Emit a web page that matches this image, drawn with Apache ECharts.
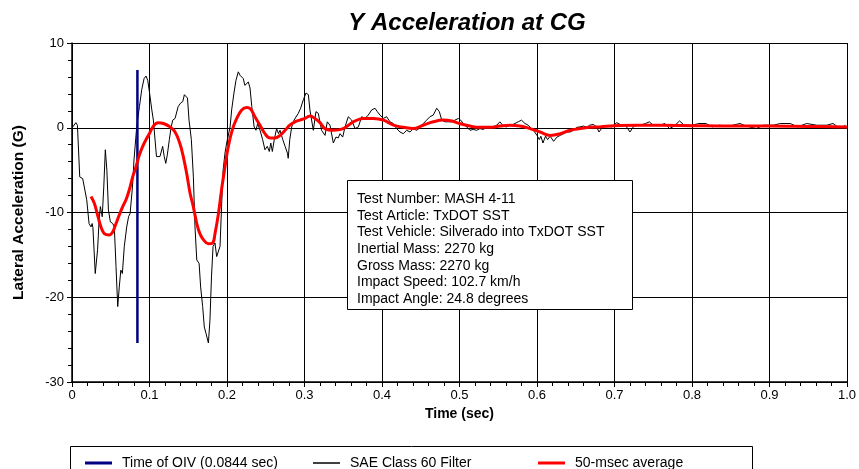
<!DOCTYPE html>
<html>
<head>
<meta charset="utf-8">
<script src="https://cdn.jsdelivr.net/npm/echarts@6/dist/echarts.min.js"></script>
<style>
  html, body { margin: 0; padding: 0; background: #fff; }
  #chart { width: 859px; height: 469px; }
</style>
</head>
<body>
<div id="chart"></div>
<script>
// SAE Class 60 filtered signal (time in s, accel in G)
var saeTime = [0.001,0.005,0.007,0.010,0.0138,0.016,0.019,0.022,0.0245,0.026,0.027,0.030,0.033,0.035,0.0366,0.039,0.041,0.043,0.045,0.047,0.0495,0.0525,0.0546,0.0568,0.059,0.061,0.063,0.065,0.0675,0.0706,0.073,0.075,0.078,0.080,0.0835,0.087,0.090,0.093,0.0955,0.0977,0.0998,0.103,0.105,0.107,0.109,0.1135,0.117,0.119,0.121,0.123,0.1256,0.128,0.130,0.133,0.137,0.140,0.143,0.145,0.147,0.149,0.151,0.154,0.1566,0.1587,0.161,0.164,0.166,0.1686,0.1707,0.173,0.176,0.178,0.180,0.182,0.1845,0.1867,0.189,0.191,0.193,0.195,0.1974,0.1996,0.202,0.204,0.206,0.209,0.2116,0.2146,0.2168,0.219,0.221,0.223,0.2254,0.2275,0.2297,0.232,0.235,0.2374,0.2396,0.2426,0.246,0.249,0.252,0.2546,0.2565,0.2585,0.261,0.264,0.2665,0.2684,0.272,0.275,0.278,0.279,0.281,0.2835,0.2865,0.289,0.292,0.295,0.2985,0.302,0.305,0.307,0.3114,0.3148,0.3178,0.322,0.3265,0.3294,0.3329,0.3372,0.3406,0.3436,0.3458,0.3493,0.3523,0.3565,0.3609,0.3652,0.3695,0.3738,0.3781,0.3823,0.3867,0.391,0.394,0.3974,0.4017,0.406,0.4103,0.4146,0.4189,0.4232,0.4275,0.4318,0.4361,0.4404,0.4447,0.449,0.4533,0.4576,0.4619,0.4662,0.4706,0.474,0.4771,0.4813,0.4856,0.49,0.4942,0.4985,0.5015,0.505,0.5093,0.5135,0.5178,0.5221,0.5264,0.5307,0.535,0.5393,0.5436,0.548,0.5522,0.5565,0.5608,0.565,0.5694,0.5758,0.58,0.5845,0.5887,0.593,0.597,0.600,0.603,0.605,0.6077,0.611,0.6137,0.617,0.6215,0.6258,0.630,0.6345,0.6387,0.6426,0.647,0.6516,0.6555,0.66,0.664,0.668,0.6726,0.677,0.680,0.685,0.690,0.696,0.703,0.709,0.714,0.720,0.725,0.733,0.740,0.745,0.750,0.759,0.765,0.771,0.777,0.784,0.790,0.800,0.809,0.818,0.826,0.835,0.848,0.862,0.870,0.883,0.892,0.905,0.914,0.927,0.936,0.948,0.961,0.974,0.982,0.991,0.998];
var saeAccel = [0.1,0.6,0.3,-5.8,-6.0,-5.8,-8.5,-11.3,-11.7,-11.3,-11.8,-17.2,-14.4,-10.9,-9.3,-10.5,-7.0,-2.6,-5.0,-9.7,-11.1,-11.3,-11.7,-16.4,-21.1,-18.8,-16.8,-17.2,-14.0,-11.7,-10.5,-10.1,-7.0,-3.8,0.1,2.5,4.5,5.8,6.1,5.6,4.3,2.1,0.9,0.7,-3.4,-3.4,-2.2,-3.4,-4.2,-3.2,-1.4,0.1,0.9,1.1,2.5,2.9,3.1,3.9,4.1,3.5,0.9,-1.4,-5.8,-11.7,-15.6,-16.0,-18.8,-21.1,-23.5,-24.3,-25.4,-22.7,-17.6,-14.0,-13.6,-15.2,-15.4,-14.0,-9.3,-5.0,-3.0,-1.8,-1.8,0.1,2.1,4.1,5.6,6.6,6.2,6.2,5.8,5.0,5.0,5.4,4.7,2.5,0.1,-0.3,0.5,-0.3,-1.4,-2.6,-2.2,-2.8,-1.8,-2.8,-1.4,-0.1,-0.7,-0.3,-1.4,-2.2,-3.0,-3.6,-1.4,0.1,0.9,1.1,1.7,2.3,3.3,4.1,3.9,2.1,-0.3,1.9,1.7,-0.3,-0.9,0.7,0.3,-1.8,-1.1,-1.2,-0.7,-1.1,0.1,1.3,0.9,-0.1,0.1,1.3,1.1,1.5,2.1,2.3,1.9,1.5,1.1,1.3,0.7,0.5,-0.1,-0.5,-0.7,-0.3,-0.5,-0.1,-0.3,0.0,0.5,0.9,1.3,1.5,2.3,1.9,0.9,0.7,0.7,0.7,0.9,1.1,0.9,0.5,0.1,-0.3,-0.2,-0.3,-0.1,-0.2,0.05,-0.1,0.1,0.3,0.7,0.2,0.1,0.3,0.4,0.7,0.9,0.5,0.3,-0.1,-0.5,-0.9,-1.4,-1.0,-1.8,-1.0,-1.4,-1.0,-1.6,-1.1,-0.9,-0.7,-0.5,-0.5,-0.3,0.05,0.1,0.2,0.05,0.3,0.4,0.1,-0.5,0.1,0.2,0.1,0.6,0.3,0.3,-0.5,0.2,0.3,0.5,0.7,0.3,0.3,0.5,-0.1,0.2,0.8,0.3,0.3,0.5,0.5,0.1,0.3,0.2,0.5,0.2,-0.1,0.3,0.3,0.5,0.5,0.1,0.5,0.3,0.3,0.5,-0.1,0.3];

// 50-msec moving average
var avgTime = [0.0245,0.0288,0.033,0.0374,0.0417,0.048,0.0525,0.0568,0.061,0.0654,0.0697,0.074,0.0783,0.0826,0.087,0.0912,0.0955,0.0998,0.105,0.111,0.118,0.1265,0.133,0.139,0.1436,0.148,0.1523,0.1565,0.161,0.165,0.1695,0.176,0.1815,0.1845,0.189,0.193,0.1974,0.2017,0.207,0.212,0.219,0.2254,0.2305,0.236,0.2426,0.249,0.2555,0.262,0.2684,0.275,0.281,0.2877,0.294,0.3006,0.307,0.3135,0.32,0.3265,0.337,0.350,0.363,0.376,0.389,0.402,0.415,0.428,0.44,0.453,0.466,0.479,0.49,0.5,0.5135,0.526,0.539,0.552,0.565,0.578,0.591,0.604,0.617,0.63,0.6426,0.655,0.668,0.681,0.70,0.73,0.76,0.80,0.85,0.90,0.95,1.0];
var avgAccel = [-8.1,-8.9,-10.3,-11.7,-12.5,-12.65,-12.3,-11.3,-10.3,-9.3,-8.5,-7.3,-5.8,-4.6,-3.2,-2.2,-1.4,-0.7,0.2,0.6,0.5,0.1,-0.5,-1.8,-3.4,-5.4,-7.7,-9.3,-11.3,-12.5,-13.2,-13.7,-13.6,-12.5,-10.1,-7.3,-4.6,-2.2,-0.2,1.0,2.1,2.4,2.2,1.3,0.3,-0.7,-1.2,-1.2,-0.9,-0.3,0.3,0.7,0.9,1.1,1.4,1.1,0.6,-0.1,-0.3,-0.1,0.7,1.1,1.1,0.9,0.3,0.05,-0.1,0.3,0.7,0.9,0.8,0.5,0.2,0.05,0.05,0.2,0.3,0.2,-0.1,-0.5,-0.9,-0.7,-0.3,-0.1,0.05,0.1,0.25,0.3,0.3,0.25,0.2,0.2,0.15,0.1];

// time of OIV marker
var oivTime = 0.0844;
var oivRange = [6.8, -25.4];

var infoLines = [
  'Test Number: MASH 4-11',
  'Test Article: TxDOT SST',
  'Test Vehicle: Silverado into TxDOT SST',
  'Inertial Mass: 2270 kg',
  'Gross Mass: 2270 kg',
  'Impact Speed: 102.7 km/h',
  'Impact Angle: 24.8 degrees'
];

var names = ['Time of OIV (0.0844 sec)', 'SAE Class 60 Filter', '50-msec average'];

function zip(a, b) {
  return a.map(function (v, i) { return [v, b[i]]; });
}

var font = '"Liberation Sans", Arial, sans-serif';
var chart = echarts.init(document.getElementById('chart'));

function legendItem(name, left, color, h) {
  return {
    data: [name],
    left: left,
    top: 451,
    icon: 'rect',
    itemWidth: 27,
    itemHeight: h,
    itemStyle: { color: color },
    selectedMode: false,
    textStyle: { fontFamily: font, fontSize: 14, color: '#000', padding: [0, 0, 0, 5] }
  };
}

var option = {
  animation: false,
  backgroundColor: '#fff',
  title: {
    text: 'Y Acceleration at CG',
    left: 462,
    textAlign: 'center',
    top: 6,
    textStyle: { fontFamily: font, fontSize: 24, fontWeight: 'bold', fontStyle: 'italic', color: '#000' }
  },
  legend: [
    legendItem(names[0], 80, '#000080', 3),
    legendItem(names[1], 308, '#000', 1.5),
    legendItem(names[2], 533, '#ff0000', 3)
  ],
  grid: { left: 72, right: 12, top: 43, bottom: 87 },
  xAxis: {
    type: 'value',
    min: 0,
    max: 1,
    interval: 0.1,
    name: 'Time (sec)',
    nameLocation: 'middle',
    nameGap: 25,
    nameTextStyle: { fontFamily: font, fontSize: 14, fontWeight: 'bold', color: '#000' },
    axisLine: { onZero: false, lineStyle: { color: '#000', width: 1.5 } },
    axisTick: { length: 5, lineStyle: { color: '#000' } },
    minorTick: { show: true, splitNumber: 5, length: 4, lineStyle: { color: '#000' } },
    splitLine: { show: true, lineStyle: { color: '#000', width: 1 } },
    axisLabel: {
      fontFamily: font, fontSize: 13, color: '#000', margin: 7,
      formatter: function (v) { return v === 0 ? '0' : v.toFixed(1); }
    }
  },
  yAxis: {
    type: 'value',
    min: -30,
    max: 10,
    interval: 10,
    name: 'Lateral Acceleration (G)',
    nameLocation: 'middle',
    nameGap: 45,
    nameTextStyle: { fontFamily: font, fontSize: 15.5, fontWeight: 'bold', color: '#000' },
    axisLine: { show: true, onZero: false, lineStyle: { color: '#000', width: 1.5 } },
    axisTick: { show: true, length: 5, lineStyle: { color: '#000' } },
    minorTick: { show: true, splitNumber: 5, length: 4, lineStyle: { color: '#000' } },
    splitLine: { show: true, lineStyle: { color: '#000', width: 1 } },
    axisLabel: { fontFamily: font, fontSize: 13, color: '#000', margin: 8 }
  },
  series: [
    {
      name: names[1],
      type: 'line',
      data: zip(saeTime, saeAccel),
      symbol: 'none',
      lineStyle: { color: '#000', width: 1 },
      itemStyle: { color: '#000' },
      z: 2
    },
    {
      name: names[0],
      type: 'line',
      data: [[oivTime, oivRange[0]], [oivTime, oivRange[1]]],
      symbol: 'none',
      lineStyle: { color: '#000080', width: 2.5 },
      itemStyle: { color: '#000080' },
      z: 3
    },
    {
      name: names[2],
      type: 'line',
      data: zip(avgTime, avgAccel),
      symbol: 'none',
      smooth: 0.4,
      lineStyle: { color: '#ff0000', width: 3 },
      itemStyle: { color: '#ff0000' },
      z: 4
    }
  ],
  graphic: [
    {
      type: 'rect',
      z: 100,
      shape: { x: 347.5, y: 180.5, width: 285, height: 129 },
      style: { fill: '#fff', stroke: '#000', lineWidth: 1 }
    },
    {
      type: 'text',
      z: 101,
      x: 357,
      y: 190.7,
      style: {
        text: infoLines.join('\n'),
        font: '14px ' + font,
        lineHeight: 16.67,
        fill: '#000'
      }
    },
    {
      type: 'rect',
      z: 100,
      shape: { x: 70.5, y: 446.5, width: 682, height: 30 },
      style: { fill: 'none', stroke: '#000', lineWidth: 1 }
    }
  ]
};

chart.setOption(option);
</script>
</body>
</html>
